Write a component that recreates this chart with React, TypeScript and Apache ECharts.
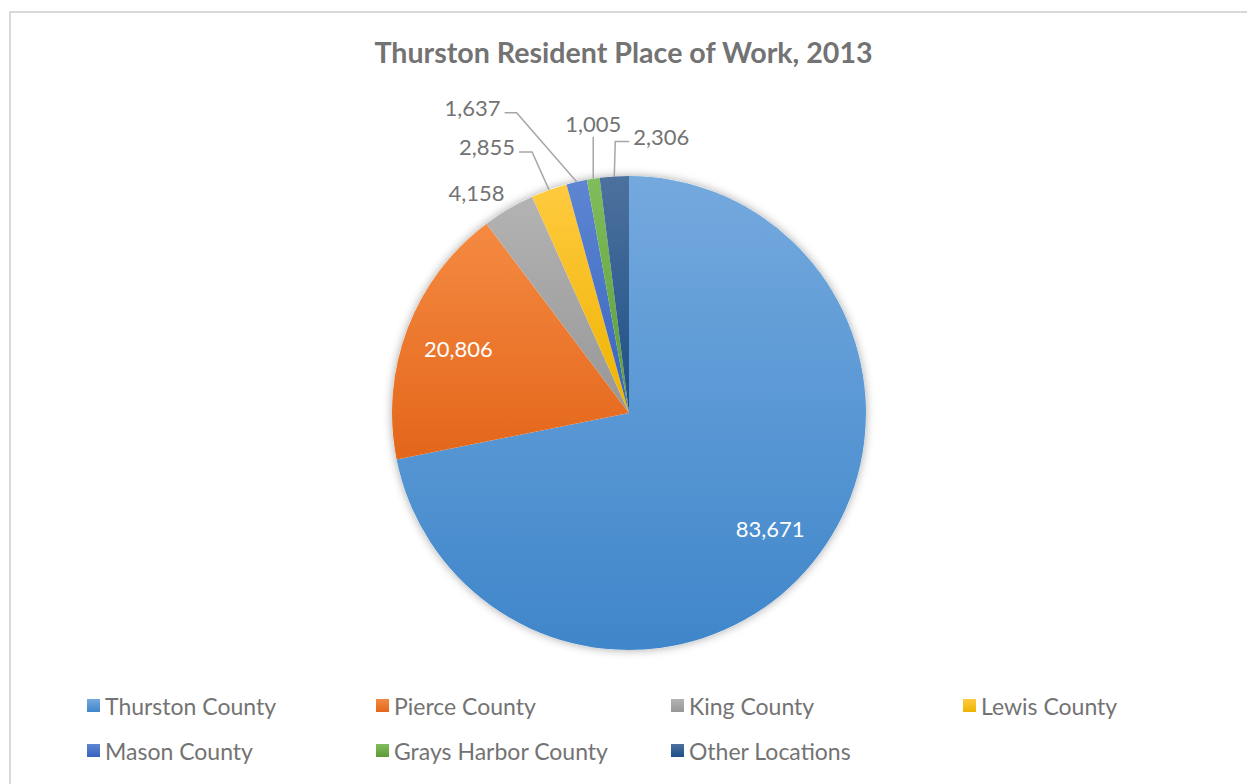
import React, { useEffect, useRef } from "react";
import * as echarts from "echarts";

const categories = [
  "Thurston County",
  "Pierce County",
  "King County",
  "Lewis County",
  "Mason County",
  "Grays Harbor County",
  "Other Locations",
];
const values = [83671, 20806, 4158, 2855, 1637, 1005, 2306];
const colorsTop = ["#74a9de", "#f58a42", "#b3b3b3", "#ffca3f", "#5e86d2", "#80bd5c", "#4d719e"];
const colorsBottom = ["#3f86ca", "#e3661a", "#979797", "#eeb300", "#3763be", "#5c9b37", "#1d4f87"];
const legendOrder = [
  "Thurston County",
  "Pierce County",
  "King County",
  "Lewis County",
  "Mason County",
  "Grays Harbor County",
  "Other Locations",
];

const TITLE = "Thurston Resident Place of Work, 2013";
const FONT = "Lato, 'Open Sans', sans-serif";
const TEXT_COLOR = "#737373";
const CX = 629;
const CY = 413;
const R = 237;

// label layout offsets (styling): elbow offset from slice anchor, end offset from elbow
const labelGuides: Record<number, any> = {
  2: { none: true, dx: -4, dy: -16, align: "right" },
  3: { elbow: [-17, -38], end: [-13, 0], align: "right", tx: -4, ty: -5 },
  4: { elbow: [-60, -69], end: [-12, 0], align: "right", tx: -4, ty: -5 },
  5: { elbow: [0, -42], end: [0, 0], align: "center", tx: 0, ty: -13 },
  6: { elbow: [1, -35], end: [14, 0], align: "left", tx: 4, ty: -5 },
};

function fmt(v: number) {
  return v.toLocaleString("en-US");
}

export default function App() {
  const ref = useRef<HTMLDivElement>(null);
  useEffect(() => {
    document.body.style.margin = "0";
    const chart = echarts.init(ref.current!, null, { renderer: "svg" });
    const total = values.reduce((a, b) => a + b, 0);
    const cum: number[] = [];
    let acc = 0;
    values.forEach((v) => {
      cum.push(acc);
      acc += v;
    });
    const midAngle = (i: number) => ((cum[i] + values[i] / 2) / total) * Math.PI * 2;
    const pointAt = (i: number, r: number) => {
      const a = midAngle(i);
      return [CX + r * Math.sin(a), CY - r * Math.cos(a)];
    };

    const data = categories.map((name, i) => {
      const inside = i < 2;
      return {
        name,
        value: values[i],
        itemStyle: {
          color: new echarts.graphic.LinearGradient(0, 0, 0, 1, [
            { offset: 0, color: colorsTop[i] },
            { offset: 1, color: colorsBottom[i] },
          ]),
        },
        label: {
          position: inside ? "inside" : "outside",
          color: inside ? "#ffffff" : TEXT_COLOR,
        },
        labelLine: { show: !inside && i !== 2 },
      };
    });

    const legends = legendOrder.map((name, k) => {
      const col = k % 4;
      const row = Math.floor(k / 4);
      const lefts = [82, 371, 666, 958];
      return {
        data: [name],
        left: lefts[col],
        top: 689 + row * 45,
        itemWidth: 13,
        itemHeight: 13,
        itemGap: 5,
        selectedMode: false,
        icon: "rect",
        textStyle: { fontFamily: FONT, fontSize: 23, color: TEXT_COLOR },
      };
    });

    chart.setOption({
      animation: false,
      backgroundColor: "#ffffff",
      title: {
        text: TITLE,
        left: "center",
        top: 32,
        textStyle: { fontFamily: FONT, fontSize: 28.6, fontWeight: "bold", color: TEXT_COLOR },
      },
      legend: legends,
      graphic: [
        {
          type: "rect",
          shape: { x: 10, y: 12, width: 1300, height: 900 },
          style: { fill: "none", stroke: "#d9d9d9", lineWidth: 2 },
          silent: true,
          z: 0,
        },
      ],
      series: [
        {
          type: "pie",
          name: "shadow",
          silent: true,
          center: [CX, CY],
          radius: R,
          z: 1,
          label: { show: false },
          labelLine: { show: false },
          data: [
            {
              name: "__bg",
              value: 1,
              itemStyle: {
                color: "#ffffff",
                shadowBlur: 10,
                shadowColor: "rgba(0,0,0,0.35)",
              },
            },
          ],
        },
        {
          type: "pie",
          name: "Place of Work",
          center: [CX, CY],
          radius: R,
          startAngle: 90,
          clockwise: true,
          z: 2,
          avoidLabelOverlap: false,
          minShowLabelAngle: 0,
          label: {
            show: true,
            fontFamily: FONT,
            fontSize: 22,
            formatter: (p: any) => fmt(p.value),
          },
          labelLine: {
            show: true,
            lineStyle: { color: "#a6a6a6", width: 1.5 },
          },
          labelLayout: (params: any) => {
            const i = params.dataIndex;
            if (i < 2) {
              const p = pointAt(i, R * 0.77);
              return { x: p[0], y: p[1], align: "center", verticalAlign: "middle" };
            }
            const g = labelGuides[i];
            const anchor = pointAt(i, R);
            if (g.none) {
              return {
                x: anchor[0] + g.dx,
                y: anchor[1] + g.dy,
                align: g.align,
                verticalAlign: "middle",
              };
            }
            const elbow = [anchor[0] + g.elbow[0], anchor[1] + g.elbow[1]];
            const end = [elbow[0] + g.end[0], elbow[1] + g.end[1]];
            return {
              x: end[0] + g.tx,
              y: end[1] + g.ty,
              align: g.align,
              verticalAlign: "middle",
              labelLinePoints: [anchor, elbow, end],
            };
          },
          emphasis: { disabled: true },
          data,
        },
      ],
    });
    return () => chart.dispose();
  }, []);
  return <div ref={ref} style={{ width: 1247, height: 784 }} />;
}
